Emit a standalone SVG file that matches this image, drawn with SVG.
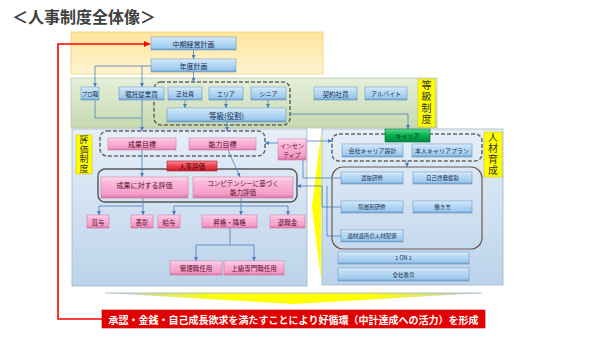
<svg xmlns="http://www.w3.org/2000/svg" width="590" height="341" viewBox="0 0 590 341">
<defs>
<linearGradient id="gb" x1="0" y1="0" x2="0" y2="1">
<stop offset="0" stop-color="#e6f3fd"/><stop offset="0.2" stop-color="#c3e0f7"/><stop offset="0.8" stop-color="#9fcbee"/><stop offset="1" stop-color="#6f9ccb"/>
</linearGradient>
<linearGradient id="gp" x1="0" y1="0" x2="0" y2="1">
<stop offset="0" stop-color="#fde0ef"/><stop offset="0.2" stop-color="#fbbcdc"/><stop offset="0.8" stop-color="#f59dca"/><stop offset="1" stop-color="#d6729f"/>
</linearGradient>
<linearGradient id="gr" x1="0" y1="0" x2="0" y2="1">
<stop offset="0" stop-color="#ff8a96"/><stop offset="0.5" stop-color="#f2414f"/><stop offset="1" stop-color="#c81e2c"/>
</linearGradient>
<linearGradient id="gg" x1="0" y1="0" x2="0" y2="1">
<stop offset="0" stop-color="#5fdc8c"/><stop offset="0.5" stop-color="#00b050"/><stop offset="1" stop-color="#00873c"/>
</linearGradient>
<linearGradient id="gy" x1="0" y1="0" x2="0" y2="1">
<stop offset="0" stop-color="#fde59a"/><stop offset="1" stop-color="#fff4d2"/>
</linearGradient>
<linearGradient id="ggr" x1="0" y1="0" x2="0" y2="1">
<stop offset="0" stop-color="#e6efdb"/><stop offset="1" stop-color="#c6dab0"/>
</linearGradient>
<linearGradient id="gpl" x1="0" y1="0" x2="0" y2="1">
<stop offset="0" stop-color="#e6eff8"/><stop offset="1" stop-color="#bcd3ea"/>
</linearGradient>
<linearGradient id="gya" x1="0" y1="0" x2="1" y2="0">
<stop offset="0" stop-color="#b8cde0"/><stop offset="0.3" stop-color="#ffff00"/><stop offset="0.7" stop-color="#ffff00"/><stop offset="1" stop-color="#b8cde0"/>
</linearGradient>
<marker id="ab" viewBox="0 0 6 6" refX="6" refY="3" markerWidth="4" markerHeight="4" markerUnits="userSpaceOnUse" orient="auto"><path d="M0,0 L6,3 L0,6 z" fill="#4a7ebb"/></marker>
<marker id="ar" viewBox="0 0 6 6" refX="6" refY="3" markerWidth="6" markerHeight="6" markerUnits="userSpaceOnUse" orient="auto"><path d="M0,0 L6,3 L0,6 z" fill="#ff0000"/></marker>
</defs>
<style>
.t{font-family:"Noto Sans CJK JP","Noto Sans CJK SC",sans-serif;text-anchor:middle;dominant-baseline:central}
.nb{fill:url(#gb);stroke:#6d97c4;stroke-width:0.6}
.np{fill:url(#gp);stroke:#d27aa6;stroke-width:0.6}
.tb{fill:#1a2e50}
.tp{fill:#5a0f2a}
.lab{fill:#ffff00;stroke:#d8c800;stroke-width:0.6}
.tv{font-family:"Noto Sans CJK JP","Noto Sans CJK SC",sans-serif;writing-mode:vertical-rl;text-anchor:middle;fill:#333}
.dash{fill:none;stroke:#666;stroke-width:1.5;stroke-dasharray:4 2}
.sol{fill:none;stroke:#555;stroke-width:1.4}
.c{fill:none;stroke:#4a7ebb;stroke-width:0.8}
.ca{fill:none;stroke:#4a7ebb;stroke-width:0.8;marker-end:url(#ab)}
</style>
<rect width="590" height="341" fill="#ffffff"/>
<text class="t" x="12" y="16" style="text-anchor:start;font-size:16px;font-weight:bold;fill:#404040">＜人事制度全体像＞</text>

<g id="panels">
<rect x="71" y="32" width="252" height="42" fill="url(#gy)" stroke="#f2cf6e" stroke-width="0.8"/>
<rect x="71" y="78" width="366" height="50" fill="url(#ggr)" stroke="#b9c9ab" stroke-width="0.8"/>
<rect x="72" y="129" width="235" height="157" fill="url(#gpl)" stroke="#a0b4c8" stroke-width="0.8"/>
<rect x="322" y="129" width="181" height="156" fill="url(#gpl)" stroke="#a0b4c8" stroke-width="0.8"/>
<polygon points="321,133 321,280 312,207" fill="#ffff00"/>
<polygon points="105,293 482,293 293,304" fill="url(#gya)"/>
<line x1="105" y1="293" x2="482" y2="293" stroke="#9fb4c8" stroke-width="0.8"/>
</g>

<g id="label-toukyu"><rect class="lab" x="418" y="79" width="17" height="48"/>
<text class="tv" x="426.5" y="103" font-size="10" letter-spacing="1.5">等級制度</text></g>
<g id="label-hyouka"><rect class="lab" x="76" y="135" width="16" height="39"/>
<text class="tv" x="84" y="154.5" font-size="9" letter-spacing="0.5">評価制度</text></g>
<g id="label-jinzai"><rect class="lab" x="484" y="132" width="18" height="45"/>
<text class="tv" x="493" y="154.5" font-size="10" letter-spacing="1">人材育成</text></g>

<g id="groups">
<rect class="dash" x="154" y="82" width="136" height="43" rx="7"/>
<rect class="dash" x="100" y="131" width="165" height="25" rx="7"/>
<rect class="sol" x="98" y="169" width="199" height="33" rx="7"/>
<rect class="dash" x="332" y="134" width="150" height="27" rx="7"/>
<rect class="sol" x="332" y="167" width="150" height="82" rx="11" style="stroke:#6a5a52;stroke-width:1.2"/>
</g>

<g id="connectors">
<path class="ca" d="M193.5,50 V59"/>
<path class="ca" d="M193.5,72 V82"/>
<path class="ca" d="M151,66 H95 V87"/>
<path class="ca" d="M142,66 V87"/>
<path class="c" d="M95,100 V118 H142"/>
<path class="ca" d="M142,100 V131"/>
<path class="ca" d="M185,100 V108"/>
<path class="ca" d="M226,100 V108"/>
<path class="ca" d="M268,100 V108"/>
<path class="ca" d="M290,114 H408 V129"/>
<path class="ca" d="M227,122 V131"/>
<path class="ca" d="M142,150 V177"/>
<path class="ca" d="M228,150 L240,177"/>
<path class="ca" d="M278,143 H265"/>
<path class="ca" d="M307,141 H332"/>
<path class="c" d="M303,160 V178 H341"/>
<path class="ca" d="M341,207 H322 V186 H297"/>
<path class="c" d="M341,236 H327 V186"/>
<path class="ca" d="M407,161 V167"/>
<path class="c" d="M143,198 V206 H99"/>
<path class="ca" d="M99,206 V215"/>
<path class="ca" d="M143,206 V215"/>
<path class="c" d="M241,198 V206 M174,206 H288"/>
<path class="ca" d="M174,206 V215"/>
<path class="ca" d="M241,206 V215"/>
<path class="ca" d="M288,206 V215"/>
<path class="c" d="M230,228 V245 M196,245 H254"/>
<path class="ca" d="M196,245 V261"/>
<path class="ca" d="M254,245 V261"/>
<path d="M102,319 H58 V44 H150" fill="none" stroke="#ff0000" stroke-width="1.6" marker-end="url(#ar)"/>
</g>

<g id="n-chuki"><rect class="nb" x="151" y="37" width="85" height="13"/><text class="t tb" x="193.5" y="43.5" font-size="7">中期経営計画</text></g>
<g id="n-nendo"><rect class="nb" x="151" y="59" width="85" height="13"/><text class="t tb" x="193.5" y="65.5" font-size="7">年度計画</text></g>
<g id="n-pro"><rect class="nb" x="81" y="87" width="18" height="13"/><text class="t tb" x="90" y="93.5" font-size="5.5">プロ職</text></g>
<g id="n-shokutaku"><rect class="nb" x="119" y="87" width="45" height="13"/><text class="t tb" x="141.5" y="93.5" font-size="6.5">嘱託従業員</text></g>
<g id="n-seishain"><rect class="nb" x="168" y="87" width="34" height="13"/><text class="t tb" x="185" y="93.5" font-size="6">正社員</text></g>
<g id="n-area"><rect class="nb" x="209" y="87" width="34" height="13"/><text class="t tb" x="226" y="93.5" font-size="6">エリア</text></g>
<g id="n-senior"><rect class="nb" x="251" y="87" width="35" height="13"/><text class="t tb" x="268.5" y="93.5" font-size="6">シニア</text></g>
<g id="n-toukyu"><rect class="nb" x="167" y="108" width="119" height="14"/><text class="t tb" x="226.5" y="115" font-size="7.5">等級(役割)</text></g>
<g id="n-keiyaku"><rect class="nb" x="314" y="87" width="43" height="13"/><text class="t tb" x="335.5" y="93.5" font-size="6.5">契約社員</text></g>
<g id="n-arubaito"><rect class="nb" x="365" y="87" width="42" height="13"/><text class="t tb" x="386" y="93.5" font-size="6">アルバイト</text></g>

<g id="n-seikamokuhyo"><rect class="np" x="108" y="138" width="68" height="12"/><text class="t tp" x="142" y="144" font-size="7">成果目標</text></g>
<g id="n-nouryokumokuhyo"><rect class="np" x="189" y="138" width="67" height="12"/><text class="t tp" x="222.5" y="144" font-size="7">能力目標</text></g>
<g id="n-incentive"><rect class="np" x="278" y="139" width="28" height="21"/><text class="t tp" x="292" y="145" font-size="6">インセン</text><text class="t tp" x="292" y="154" font-size="6">ティブ</text></g>
<g id="n-jinjihyoka"><rect x="167" y="161" width="50" height="10" fill="url(#gr)" stroke="#b01828" stroke-width="0.6"/><text class="t" x="192" y="166" font-size="6.5" fill="#3a0000">人事評価</text></g>
<g id="n-seikahyoka"><rect class="np" x="101" y="177" width="87" height="21"/><text class="t tp" x="144.5" y="185" font-size="7">成果に対する評価</text></g>
<g id="n-competency"><rect class="np" x="193" y="177" width="100" height="21"/><text class="t tp" x="243" y="183" font-size="6.5">コンピテンシーに基づく</text><text class="t tp" x="243" y="192" font-size="6.5">能力評価</text></g>
<g id="n-shoyo"><rect class="np" x="87" y="215" width="22" height="13"/><text class="t tp" x="98" y="221.5" font-size="6.5">賞与</text></g>
<g id="n-hyosho"><rect class="np" x="131" y="215" width="22" height="13"/><text class="t tp" x="142" y="221.5" font-size="6.5">表彰</text></g>
<g id="n-kyuyo"><rect class="np" x="158" y="215" width="22" height="13"/><text class="t tp" x="169" y="221.5" font-size="6.5">給与</text></g>
<g id="n-shokaku"><rect class="np" x="202" y="215" width="55" height="13"/><text class="t tp" x="229.5" y="221.5" font-size="6.5">昇格・降格</text></g>
<g id="n-taishokukin"><rect class="np" x="270" y="215" width="35" height="13"/><text class="t tp" x="287.5" y="221.5" font-size="6.5">退職金</text></g>
<g id="n-kanrishoku"><rect class="np" x="170" y="261" width="52" height="14"/><text class="t tp" x="196" y="268" font-size="6.5">管理職任用</text></g>
<g id="n-joukyu"><rect class="np" x="224" y="261" width="60" height="14"/><text class="t tp" x="254" y="268" font-size="6.5">上級専門職任用</text></g>

<g id="n-career"><rect x="385" y="129" width="45" height="13" fill="url(#gg)" stroke="#00703a" stroke-width="0.6"/><text class="t" x="407.5" y="135.5" font-size="6" fill="#0a2a12">キャリア</text></g>
<g id="n-kaishacareer"><rect class="nb" x="342" y="144" width="61" height="13"/><text class="t tb" x="372.5" y="150.5" font-size="6">会社キャリア設計</text></g>
<g id="n-honnincareer"><rect class="nb" x="412" y="144" width="60" height="13"/><text class="t tb" x="442" y="150.5" font-size="6">本人キャリアプラン</text></g>
<g id="n-senbatsu"><rect class="nb" x="341" y="172" width="62" height="12"/><text class="t tb" x="372" y="178" font-size="5.5">選抜研修</text></g>
<g id="n-jikokeihatsu"><rect class="nb" x="413" y="172" width="59" height="12"/><text class="t tb" x="442.5" y="178" font-size="5.5">自己啓発援助</text></g>
<g id="n-kaisou"><rect class="nb" x="341" y="201" width="62" height="12"/><text class="t tb" x="372" y="207" font-size="5.5">階層別研修</text></g>
<g id="n-hatarakikata"><rect class="nb" x="413" y="201" width="59" height="12"/><text class="t tb" x="442.5" y="207" font-size="5.5">働き方</text></g>
<g id="n-tekizai"><rect class="nb" x="341" y="230" width="62" height="12"/><text class="t tb" x="372" y="236" font-size="5.5">適材適所の人材配置</text></g>
<g id="n-1on1"><rect class="nb" x="338" y="252" width="131" height="12"/><text class="t tb" x="403.5" y="258" font-size="5.5">1 ON 1</text></g>
<g id="n-zensha"><rect class="nb" x="338" y="268" width="131" height="13"/><text class="t tb" x="403.5" y="274.5" font-size="5.5">全社教育</text></g>

<g id="n-result"><rect x="102" y="310" width="383" height="18" fill="#e30000" stroke="#c00000" stroke-width="0.6"/><text class="t" x="293.5" y="319" font-size="10" font-weight="bold" fill="#ffffff">承認・金銭・自己成長欲求を満たすことにより好循環（中計達成への活力）を形成</text></g>
</svg>
